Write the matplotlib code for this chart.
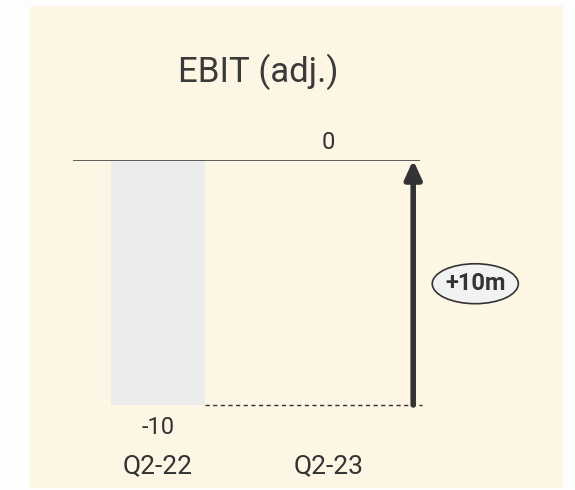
import matplotlib.pyplot as plt
from matplotlib.patches import Rectangle, Ellipse

categories = ["Q2-22", "Q2-23"]
values = [-10, 0]
change_label = "+10m"
title = "EBIT (adj.)"

plt.rcParams['font.family'] = ['Roboto', 'DejaVu Sans']
text_color = "#333333"

W, H = 575, 490
fig = plt.figure(figsize=(5.75, 4.9), dpi=100)
fig.patch.set_facecolor("#fdfdfd")
# beige panel
fig.patches.append(Rectangle((30 / W, 2 / H), 533 / W, 482 / H,
                             transform=fig.transFigure, facecolor="#fef6e4",
                             edgecolor="none", zorder=-10))

ax = fig.add_axes([73 / W, 85 / H, 347 / W, 245 / H])
ax.set_facecolor("none")
ax.set_xlim(-0.5, 1.54)
ax.set_ylim(min(values), 0)
ax.axis("off")

x = list(range(len(categories)))
ax.bar(x[0], values[0], width=0.55, color="#ebebeb", zorder=1)

# zero line
ax.axhline(0, color=text_color, lw=1.1, zorder=3)
# dashed line from bar bottom to arrow
ax.plot([x[0] + 0.275, 1.55], [values[0], values[0]], ls=(0, (3, 2.5)),
        color=text_color, lw=1, zorder=2, clip_on=False)

# arrow
ax.annotate("", xy=(1.5, values[1]), xytext=(1.5, values[0]),
            arrowprops=dict(arrowstyle="-|>,head_width=0.5,head_length=1.1",
                            color=text_color, lw=4, shrinkA=0, shrinkB=0),
            zorder=4, annotation_clip=False)

# value labels
ax.annotate("-10", (x[0], values[0]), xytext=(0, -21), textcoords="offset points",
            ha="center", va="baseline", fontsize=17, color=text_color,
            annotation_clip=False)
ax.annotate("0", (x[1], values[1]), xytext=(0, 8), textcoords="offset points",
            ha="center", va="baseline", fontsize=17, color=text_color,
            annotation_clip=False)

# category labels
for xi, c in zip(x, categories):
    ax.annotate(c, (xi, min(values)), xytext=(0, -49), textcoords="offset points",
                ha="center", va="baseline", fontsize=19, color=text_color,
                annotation_clip=False)

# change bubble
bx, by = 1.865, (values[0] + values[1]) / 2 - 0.05
ax.add_patch(Ellipse((bx, by), 0.506, 1.63, facecolor="#f2f2f2",
                     edgecolor=text_color, lw=1.2, clip_on=False, zorder=5))
ax.text(bx, by, change_label, ha="center", va="center", fontsize=17,
        fontweight="bold", color=text_color, clip_on=False, zorder=6)

fig.text(258 / W, 1 - 82 / H, title, ha="center", va="baseline", fontsize=25,
         color="#3a3a3a")

fig.savefig("out.png", dpi=100)
